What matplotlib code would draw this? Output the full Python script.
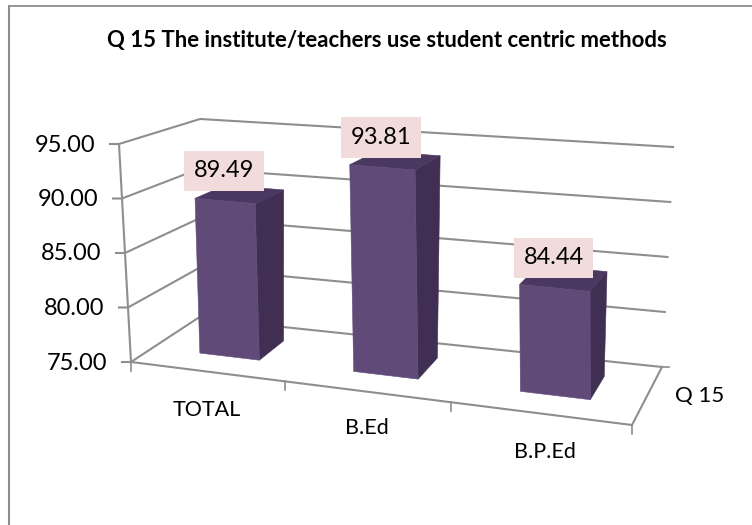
import matplotlib
matplotlib.use("Agg")
import matplotlib.pyplot as plt
from matplotlib.patches import Polygon

plt.rcParams['font.family'] = ['Lato', 'DejaVu Sans']

categories = ["TOTAL", "B.Ed", "B.P.Ed"]
values = [89.49, 93.81, 84.44]
value_ticks = [75, 80, 85, 90, 95]
series_name = "Q 15"
title = "Q 15 The institute/teachers use student centric methods"

GRID = "#8e8e8e"
FRONT = "#5f4a78"
SIDE = "#402f52"
TOP = "#4b3860"
LABEL_BG = "#f2dcdb"

# corners of the 3d box in pixels, (front/back, left/right, bottom/top)
FLB, FRB, BLB, BRB = (131, 362), (632, 425), (198, 318), (662, 367)
FLT, FRT, BLT, BRT = (119, 144), (627, 188), (200, 119), (673, 147)


def lerp(a, b, t):
    return (a[0] + (b[0] - a[0]) * t, a[1] + (b[1] - a[1]) * t)


def project(t, val, w):
    # t along categories 0..1, w depth 0..1, perspective squeeze on t
    u = 0.886 * t / (1 - 0.114 * t)
    v = (val - value_ticks[0]) / (value_ticks[-1] - value_ticks[0])
    bot = lerp(lerp(FLB, FRB, u), lerp(BLB, BRB, u), w)
    top = lerp(lerp(FLT, FRT, u), lerp(BLT, BRT, u), w)
    return lerp(bot, top, v)


fig = plt.figure(figsize=(7.52, 5.25), dpi=100)
ax = fig.add_axes([0, 0, 1, 1])
ax.set_xlim(0, 752)
ax.set_ylim(525, 0)
ax.axis("off")

# chart frame, runs off the image on the right and at the bottom
ax.plot([9, 9, 752], [525, 5.5, 5.5], color=GRID, lw=1.3, solid_joinstyle="miter")
ax.plot([9, 9], [5.5, 525], color=GRID, lw=1.5)

ax.text(387, 40, title, ha="center", va="center", fontsize=15.9, fontweight="bold", color="black")

# walls
for val in value_ticks:
    front = project(0, val, 0)
    back = project(0, val, 1)
    right = project(1, val, 1)
    ax.plot([front[0] - 9, front[0], back[0], right[0]], [front[1], front[1], back[1], right[1]],
            color=GRID, lw=1.5, solid_joinstyle="miter", zorder=1)
    ax.text(front[0] - 24, front[1] + 1, f"{val:.2f}", ha="right", va="center", fontsize=17)

# left edge and floor
ends = [project(0, value_ticks[0], 0), project(0, value_ticks[-1], 0)]
ax.plot([p[0] for p in ends], [p[1] for p in ends], color=GRID, lw=1.5, zorder=1)
floor = [project(0, 75, 0), project(1, 75, 0), project(1, 75, 1)]
ax.plot([p[0] for p in floor], [p[1] for p in floor], color=GRID, lw=1.5, zorder=1)
for i in range(len(categories) + 1):
    p = project(i / len(categories), 75, 0)
    ax.plot([p[0], p[0]], [p[1], p[1] + 9], color=GRID, lw=1.2, zorder=1)
p = project(1, 75, 1)
ax.plot([p[0], p[0] + 7], [p[1], p[1]], color=GRID, lw=1.2, zorder=1)

# bars
half = 0.066
w0, w1 = 0.33, 0.74
for i, val in enumerate(values):
    c = (i + 0.5) / len(categories) + 0.006
    t0, t1 = c - half, c + half
    front_face = [project(t0, 75, w0), project(t1, 75, w0), project(t1, val, w0), project(t0, val, w0)]
    side_face = [project(t1, 75, w0), project(t1, 75, w1), project(t1, val, w1), project(t1, val, w0)]
    top_face = [project(t0, val, w0), project(t1, val, w0), project(t1, val, w1), project(t0, val, w1)]
    ax.add_patch(Polygon(side_face, fc=SIDE, ec=SIDE, lw=0.4, zorder=3))
    ax.add_patch(Polygon(top_face, fc=TOP, ec=TOP, lw=0.4, zorder=3))
    ax.add_patch(Polygon(front_face, fc=FRONT, ec=FRONT, lw=0.4, zorder=3))
    p = project(c, val, w0)
    ax.text(p[0] - 1, p[1] - 30, f"{val:.2f}", ha="center", va="center", fontsize=17, zorder=5,
            bbox=dict(fc=LABEL_BG, ec="none", boxstyle="square,pad=0.41"))

# category labels
cat_pos = [(207, 410), (367, 428), (545, 452)]
for name, pos in zip(categories, cat_pos):
    ax.text(pos[0], pos[1], name, ha="center", va="center", fontsize=15.5)
ax.text(700, 396, series_name, ha="center", va="center", fontsize=16)

fig.savefig("out.png", dpi=100)
